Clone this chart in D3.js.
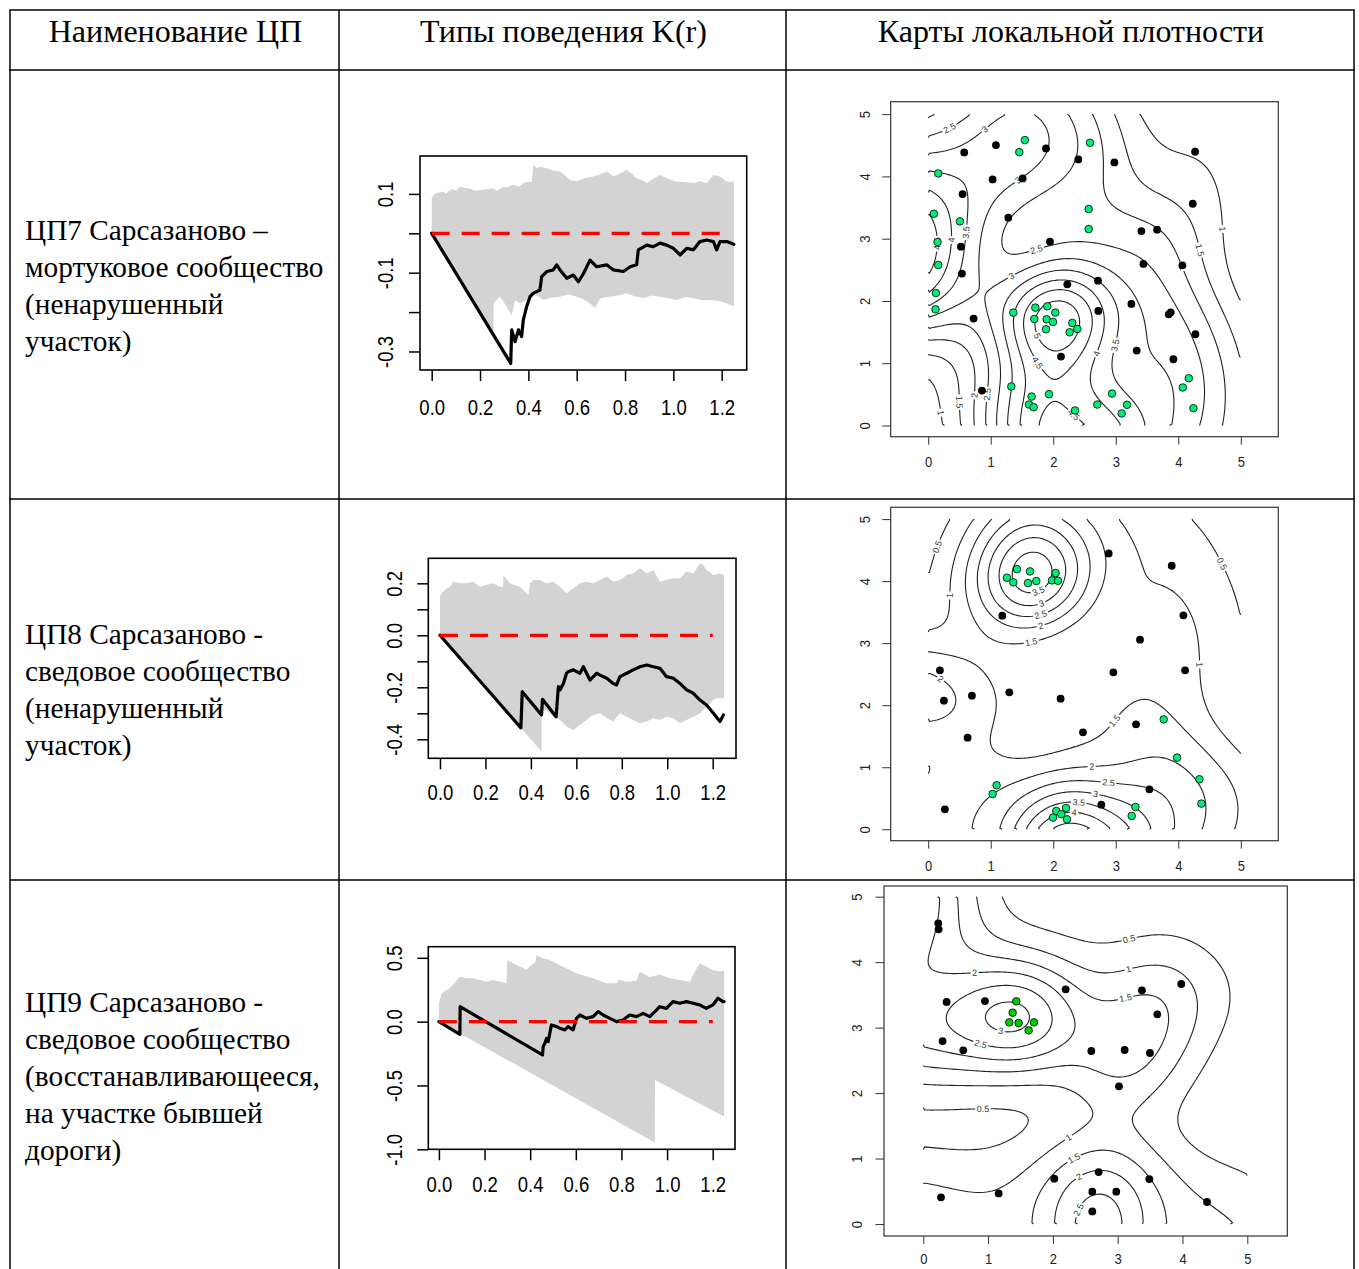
<!DOCTYPE html>
<html><head><meta charset="utf-8">
<script src="https://cdn.jsdelivr.net/npm/d3@7/dist/d3.min.js"></script>
<style>html,body{margin:0;padding:0;background:#fff;} svg{display:block}</style>
</head><body>
<svg id="chart" width="1359" height="1269"></svg>
<script>
// ================= DATA =================
const headerLabels = ["Наименование ЦП", "Типы поведения K(r)", "Карты локальной плотности"];
const rowLabels1 = ["ЦП7 Сарсазаново –", "мортуковое сообщество", "(ненарушенный", "участок)"];
const rowLabels2 = ["ЦП8 Сарсазаново -", "сведовое сообщество", "(ненарушенный", "участок)"];
const rowLabels3 = ["ЦП9 Сарсазаново -", "сведовое сообщество", "(восстанавливающееся,", "на участке бывшей", "дороги)"];

const kTicksX = [0, 0.2, 0.4, 0.6, 0.8, 1.0, 1.2];
const k1TicksY = [0.1, 0, -0.1, -0.2, -0.3];
const k1LabelsY = [0.1, -0.1, -0.3];
const k2TicksY = [0.2, 0.1, 0, -0.1, -0.2, -0.3, -0.4];
const k2LabelsY = [0.2, 0, -0.2, -0.4];
const k3TicksY = [0.5, 0, -0.5, -1.0];
const k3LabelsY = [0.5, 0, -0.5, -1.0];

// K(r) panel 1: envelope (upper/lower) and observed curve, [r, value]
const k1Upper = [[0,0.089],[0.01,0.098],[0.021,0.102],[0.035,0.104],[0.048,0.106],[0.06,0.101],[0.076,0.110],[0.09,0.112],[0.1,0.108],[0.117,0.118],[0.135,0.115],[0.159,0.114],[0.18,0.108],[0.2,0.11],[0.23,0.112],[0.255,0.114],[0.27,0.108],[0.297,0.118],[0.31,0.116],[0.338,0.123],[0.36,0.118],[0.38,0.127],[0.393,0.131],[0.414,0.13],[0.421,0.174],[0.435,0.165],[0.448,0.169],[0.476,0.165],[0.5,0.16],[0.531,0.157],[0.55,0.148],[0.572,0.135],[0.6,0.132],[0.63,0.14],[0.669,0.144],[0.7,0.15],[0.724,0.157],[0.752,0.144],[0.78,0.152],[0.807,0.161],[0.83,0.15],[0.848,0.14],[0.87,0.135],[0.89,0.127],[0.92,0.14],[0.945,0.148],[0.98,0.138],[1.014,0.131],[1.05,0.13],[1.083,0.127],[1.11,0.133],[1.138,0.127],[1.166,0.148],[1.193,0.144],[1.221,0.131],[1.25,0.131]];
const k1Lower = [[0,0],[0.255,-0.255],[0.256,-0.178],[0.27,-0.168],[0.283,-0.161],[0.31,-0.186],[0.331,-0.208],[0.345,-0.17],[0.366,-0.178],[0.393,-0.169],[0.421,-0.152],[0.44,-0.16],[0.462,-0.169],[0.5,-0.163],[0.531,-0.161],[0.565,-0.155],[0.6,-0.161],[0.63,-0.168],[0.655,-0.178],[0.676,-0.19],[0.697,-0.165],[0.738,-0.161],[0.77,-0.158],[0.807,-0.152],[0.84,-0.16],[0.876,-0.165],[0.91,-0.158],[0.945,-0.161],[0.98,-0.165],[1.014,-0.169],[1.05,-0.162],[1.083,-0.165],[1.12,-0.17],[1.152,-0.169],[1.19,-0.172],[1.221,-0.178],[1.25,-0.186]];
const k1Obs = [[0,0],[0.327,-0.33],[0.331,-0.245],[0.345,-0.275],[0.359,-0.245],[0.372,-0.262],[0.379,-0.22],[0.393,-0.186],[0.407,-0.161],[0.421,-0.152],[0.448,-0.144],[0.455,-0.11],[0.476,-0.097],[0.503,-0.093],[0.517,-0.08],[0.531,-0.093],[0.559,-0.114],[0.586,-0.106],[0.607,-0.123],[0.628,-0.102],[0.655,-0.068],[0.683,-0.085],[0.724,-0.08],[0.752,-0.093],[0.793,-0.097],[0.821,-0.085],[0.848,-0.08],[0.855,-0.042],[0.89,-0.03],[0.917,-0.034],[0.945,-0.025],[0.972,-0.03],[1.0,-0.038],[1.028,-0.055],[1.055,-0.038],[1.083,-0.042],[1.11,-0.021],[1.138,-0.017],[1.166,-0.021],[1.179,-0.042],[1.193,-0.021],[1.221,-0.021],[1.25,-0.028]];

// K(r) panel 2
const k2Upper = [[0,0.149],[0.007,0.162],[0.022,0.174],[0.044,0.187],[0.058,0.206],[0.088,0.2],[0.118,0.2],[0.147,0.206],[0.176,0.187],[0.205,0.194],[0.235,0.2],[0.264,0.187],[0.278,0.187],[0.279,0.232],[0.308,0.2],[0.352,0.187],[0.389,0.155],[0.396,0.2],[0.411,0.213],[0.44,0.213],[0.469,0.2],[0.499,0.206],[0.528,0.187],[0.557,0.162],[0.587,0.181],[0.616,0.2],[0.645,0.206],[0.674,0.2],[0.704,0.213],[0.734,0.226],[0.762,0.206],[0.792,0.213],[0.822,0.232],[0.85,0.238],[0.88,0.258],[0.91,0.238],[0.939,0.251],[0.968,0.206],[0.997,0.213],[1.027,0.219],[1.056,0.219],[1.085,0.245],[1.115,0.238],[1.144,0.277],[1.158,0.27],[1.173,0.251],[1.203,0.232],[1.232,0.238],[1.25,0.232]];
const k2Lower = [[0,0],[0.447,-0.447],[0.448,-0.287],[0.469,-0.287],[0.499,-0.313],[0.528,-0.326],[0.557,-0.351],[0.587,-0.364],[0.616,-0.345],[0.645,-0.326],[0.674,-0.306],[0.704,-0.3],[0.734,-0.319],[0.762,-0.332],[0.792,-0.3],[0.822,-0.313],[0.85,-0.326],[0.88,-0.338],[0.91,-0.332],[0.939,-0.319],[0.968,-0.326],[0.997,-0.313],[1.027,-0.319],[1.056,-0.338],[1.085,-0.326],[1.115,-0.313],[1.144,-0.3],[1.173,-0.274],[1.203,-0.249],[1.217,-0.242],[1.25,-0.242]];
const k2Obs = [[0,0],[0.356,-0.356],[0.362,-0.217],[0.447,-0.306],[0.451,-0.246],[0.511,-0.313],[0.521,-0.197],[0.528,-0.21],[0.543,-0.185],[0.557,-0.146],[0.564,-0.14],[0.587,-0.133],[0.616,-0.146],[0.631,-0.121],[0.66,-0.172],[0.689,-0.146],[0.704,-0.153],[0.734,-0.165],[0.762,-0.185],[0.777,-0.191],[0.792,-0.159],[0.822,-0.146],[0.85,-0.133],[0.88,-0.121],[0.91,-0.114],[0.939,-0.121],[0.968,-0.127],[0.997,-0.159],[1.027,-0.165],[1.056,-0.185],[1.085,-0.21],[1.115,-0.223],[1.144,-0.249],[1.173,-0.268],[1.203,-0.3],[1.232,-0.332],[1.247,-0.306]];

// K(r) panel 3
const k3Upper = [[0,0.144],[0.012,0.222],[0.034,0.248],[0.048,0.261],[0.077,0.32],[0.092,0.352],[0.12,0.339],[0.15,0.339],[0.179,0.326],[0.208,0.313],[0.237,0.326],[0.266,0.313],[0.296,0.3],[0.3,0.483],[0.325,0.457],[0.355,0.431],[0.384,0.405],[0.398,0.431],[0.424,0.47],[0.427,0.52],[0.456,0.496],[0.485,0.483],[0.529,0.444],[0.602,0.38],[0.675,0.34],[0.734,0.3],[0.779,0.3],[0.785,0.33],[0.822,0.313],[0.866,0.32],[0.88,0.39],[0.924,0.35],[0.968,0.37],[1.012,0.34],[1.056,0.326],[1.1,0.313],[1.115,0.37],[1.143,0.457],[1.172,0.431],[1.2,0.405],[1.23,0.392],[1.25,0.4]];
const k3Lower = [[0,0],[0.946,-0.946],[0.947,-0.457],[1.25,-0.744]];
const k3Obs = [[0,0],[0.092,-0.099],[0.093,0.117],[0.454,-0.261],[0.457,-0.196],[0.464,-0.17],[0.472,-0.131],[0.479,-0.157],[0.493,-0.026],[0.515,-0.039],[0.53,-0.052],[0.552,-0.065],[0.566,-0.039],[0.588,-0.065],[0.603,0.026],[0.618,0.052],[0.647,0.026],[0.676,0.039],[0.698,0.078],[0.72,0.052],[0.749,0.026],[0.778,0],[0.807,0.013],[0.836,0.052],[0.866,0.039],[0.895,0.065],[0.924,0.039],[0.953,0.091],[0.968,0.117],[0.997,0.104],[1.026,0.157],[1.055,0.144],[1.085,0.157],[1.114,0.144],[1.143,0.131],[1.172,0.104],[1.201,0.131],[1.223,0.183],[1.245,0.157],[1.25,0.157]];

// Density maps: point coordinates [x, y]
const mapTicks = [0, 1, 2, 3, 4, 5];
const map1Black = [[0.576,4.385],[1.083,4.503],[1.884,4.449],[2.401,4.273],[2.978,4.225],[4.269,4.396],[1.03,3.952],[1.51,3.968],[0.55,3.717],[4.232,3.561],[1.281,3.337],[3.41,3.123],[3.661,3.144],[1.948,2.952],[0.523,2.872],[3.442,2.594],[4.066,2.572],[0.539,2.439],[2.225,2.267],[2.716,2.326],[0.726,1.717],[2.721,1.84],[3.25,1.952],[3.847,1.786],[3.879,1.818],[4.274,1.465],[3.335,1.203],[2.124,1.107],[3.922,1.064],[0.859,0.561]];
const map1Green = [[1.547,4.583],[1.457,4.39],[2.588,4.54],[0.16,4.048],[0.091,3.401],[0.507,3.278],[0.149,2.947],[0.16,2.578],[2.567,3.476],[2.567,3.155],[0.123,2.128],[0.117,1.866],[1.361,1.813],[1.713,1.893],[1.905,1.914],[2.033,1.813],[1.697,1.711],[1.894,1.706],[1.996,1.663],[1.884,1.545],[2.305,1.647],[2.385,1.551],[2.263,1.497],[1.329,0.626],[1.654,0.465],[1.612,0.337],[1.686,0.294],[1.932,0.503],[2.348,0.241],[2.705,0.337],[2.94,0.513],[3.18,0.332],[3.095,0.193],[4.168,0.759],[4.072,0.61],[4.242,0.278]];
const map1Levels = [1, 1.5, 2, 2.5, 3, 3.5, 4, 4.5, 5];

const map2Black = [[2.887,4.447],[3.895,4.248],[1.185,3.443],[4.082,3.448],[3.388,3.056],[0.187,2.562],[2.962,2.53],[4.109,2.562],[0.251,2.073],[0.699,2.154],[1.297,2.207],[2.118,2.105],[0.63,1.477],[2.476,1.563],[3.324,1.692],[3.538,0.644],[2.769,0.397],[0.267,0.322]];
const map2Green = [[1.419,4.194],[1.259,4.055],[1.361,3.98],[1.628,4.157],[1.596,3.969],[1.729,4.001],[2.038,4.13],[1.98,4.012],[2.076,4.006],[3.767,1.772],[3.981,1.155],[4.338,0.806],[4.37,0.414],[1.094,0.709],[1.03,0.569],[3.314,0.36],[3.255,0.215],[2.049,0.295],[2.204,0.344],[2.129,0.242],[1.996,0.188],[2.22,0.161]];
const map2Levels = [0.5, 1, 1.5, 2, 2.5, 3, 3.5, 4, 4.5];

const map3Black = [[0.231,4.593],[0.237,4.501],[0.36,3.391],[0.952,3.406],[2.197,3.585],[3.374,3.569],[3.981,3.666],[3.611,3.203],[0.298,2.795],[0.617,2.653],[2.593,2.643],[3.107,2.658],[3.498,2.612],[3.02,2.103],[2.022,0.692],[2.706,0.794],[3.488,0.687],[2.608,0.494],[2.978,0.494],[2.608,0.193],[0.273,0.407],[1.163,0.468],[4.378,0.336]];
const map3Green = [[1.435,3.401],[1.379,3.228],[1.327,3.08],[1.471,3.07],[1.708,3.08],[1.626,2.958]];
const map3Levels = [0.5, 1, 1.5, 2, 2.5, 3];

// ================= LAYOUT =================
const svg = d3.select("#chart");
const tableCols = [10, 339, 786, 1354];
const tableRows = [10, 70, 499, 880];
const serif = "'Liberation Serif','Times New Roman',serif";
const sans = "'Liberation Sans',Arial,Helvetica,sans-serif";
const fmt1 = d => d3.format(".1f")(d).replace("\u2212", "-");

// table grid
const grid = svg.append("g").attr("stroke", "#000").attr("stroke-width", 1.5);
tableRows.forEach(y => grid.append("line").attr("x1", tableCols[0] - 0.75).attr("x2", tableCols[3] + 0.75).attr("y1", y).attr("y2", y));
tableCols.forEach(x => grid.append("line").attr("x1", x).attr("x2", x).attr("y1", tableRows[0]).attr("y2", 1269));

// header text
headerLabels.forEach((t, i) => {
  svg.append("text").attr("x", (tableCols[i] + tableCols[i + 1]) / 2 + 1).attr("y", 42)
    .attr("text-anchor", "middle").attr("font-family", serif).attr("font-size", 32).text(t);
});

function rowText(lines, baselines) {
  lines.forEach((t, i) => {
    svg.append("text").attr("x", 25).attr("y", baselines[i])
      .attr("font-family", serif).attr("font-size", 29.3).text(t);
  });
}
rowText(rowLabels1, [240, 277, 314, 351]);
rowText(rowLabels2, [644, 681, 718, 755]);
rowText(rowLabels3, [1012, 1049, 1086, 1123, 1160]);

// ================= K(r) PANELS =================
function drawK(cfg) {
  const g = svg.append("g");
  const x = d3.scaleLinear().domain(cfg.xDomain).range([cfg.box.l, cfg.box.r]);
  const y = d3.scaleLinear().domain(cfg.yDomain).range([cfg.box.b, cfg.box.t]);
  const line = d3.line().x(d => x(d[0])).y(d => y(d[1]));
  const poly = cfg.upper.concat(cfg.lower.slice().reverse());
  g.append("path").attr("d", line(poly) + "Z").attr("fill", "#d3d3d3").attr("stroke", "none");
  g.append("path").attr("d", line(cfg.obs)).attr("fill", "none").attr("stroke", "#000")
    .attr("stroke-width", 3.2).attr("stroke-linejoin", "round").attr("stroke-linecap", "round");
  g.append("path").attr("d", line([[0, 0], [cfg.redEnd, 0]])).attr("fill", "none").attr("stroke", "#ff0000")
    .attr("stroke-width", 3.2).attr("stroke-dasharray", "18,12");
  g.append("rect").attr("x", cfg.box.l).attr("y", cfg.box.t).attr("width", cfg.box.r - cfg.box.l)
    .attr("height", cfg.box.b - cfg.box.t).attr("fill", "none").attr("stroke", "#000").attr("stroke-width", 1.6);
  const ax = g.append("g").attr("transform", `translate(0,${cfg.box.b})`)
    .call(d3.axisBottom(x).tickValues(kTicksX).tickSize(11).tickFormat(fmt1));
  const ay = g.append("g").attr("transform", `translate(${cfg.box.l},0)`)
    .call(d3.axisLeft(y).tickValues(cfg.yTicks).tickSize(11)
      .tickFormat(d => cfg.yLabels.some(v => Math.abs(v - d) < 1e-9) ? fmt1(d) : ""));
  [ax, ay].forEach(a => {
    a.select(".domain").remove();
    a.selectAll("line").attr("stroke", "#000").attr("stroke-width", 1.5);
    a.selectAll("text").attr("font-family", sans).attr("font-size", 18.5).attr("fill", "#000");
  });
  ax.selectAll("text").attr("y", cfg.xLabOff / 1.2).attr("dy", "0.36em").attr("transform", "scale(1,1.2)");
  ay.selectAll("text").attr("x", 0).attr("y", 0).attr("dy", "0.36em").attr("text-anchor", "middle")
    .attr("transform", `translate(${-cfg.yLabOff},0) rotate(-90) scale(1,1.15)`);
}

drawK({ box: { l: 420, r: 746.7, t: 156, b: 370 }, xDomain: [-0.0484, 1.3034], yDomain: [-0.347, 0.1962],
  upper: k1Upper, lower: k1Lower, obs: k1Obs, redEnd: 1.2, yTicks: k1TicksY, yLabels: k1LabelsY, xLabOff: 37, yLabOff: 35 });
drawK({ box: { l: 428.3, r: 736, t: 558.3, b: 758.3 }, xDomain: [-0.0513, 1.3025], yDomain: [-0.4731, 0.2962],
  upper: k2Upper, lower: k2Lower, obs: k2Obs, redEnd: 1.2, yTicks: k2TicksY, yLabels: k2LabelsY, xLabOff: 34, yLabOff: 34 });
drawK({ box: { l: 428.3, r: 735, t: 946.7, b: 1149.3 }, xDomain: [-0.0465, 1.2977], yDomain: [-1.0, 0.587],
  upper: k3Upper, lower: k3Lower, obs: k3Obs, redEnd: 1.2, yTicks: k3TicksY, yLabels: k3LabelsY, xLabOff: 35, yLabOff: 34 });

// ================= DENSITY MAPS =================
function erf(x) {
  const s = x < 0 ? -1 : 1; x = Math.abs(x);
  const t = 1 / (1 + 0.3275911 * x);
  const y = 1 - (((((1.061405429 * t - 1.453152027) * t) + 1.421413741) * t - 0.284496736) * t + 0.254829592) * t * Math.exp(-x * x);
  return s * y;
}
const Phi = z => 0.5 * (1 + erf(z / Math.SQRT2));

// Gaussian kernel intensity with uniform edge correction on the [0,W]^2 window
function densityGrid(pts, sigma, n, W) {
  const h = W / n, vals = new Array(n * n).fill(0);
  const ec = [];
  for (let i = 0; i < n; i++) { const c = (i + 0.5) * h; ec.push(Phi((W - c) / sigma) - Phi(-c / sigma)); }
  const k = 1 / (2 * Math.PI * sigma * sigma), s2 = 2 * sigma * sigma;
  for (let j = 0; j < n; j++) {
    const yy = (j + 0.5) * h;
    for (let i = 0; i < n; i++) {
      const xx = (i + 0.5) * h; let s = 0;
      for (const p of pts) { const dx = xx - p[0], dy = yy - p[1]; s += Math.exp(-(dx * dx + dy * dy) / s2); }
      vals[j * n + i] = s * k / (ec[i] * ec[j]);
    }
  }
  return vals;
}

function ringToLines(ring, n) {
  let pts = ring.slice();
  const last = pts[pts.length - 1];
  if (pts.length > 1 && last[0] === pts[0][0] && last[1] === pts[0][1]) pts.pop();
  const eps = 1e-6;
  const onB = p => p[0] <= eps || p[0] >= n - eps || p[1] <= eps || p[1] >= n - eps;
  const m = pts.length;
  const keep = i => !(onB(pts[i]) && onB(pts[(i + 1) % m]));
  let start = -1;
  for (let i = 0; i < m; i++) if (!keep(i)) { start = i; break; }
  if (start < 0) return [{ closed: true, pts: pts.concat([pts[0]]) }];
  const lines = []; let cur = null;
  for (let k = 1; k <= m; k++) {
    const i = (start + k) % m;
    if (keep(i)) { if (!cur) cur = [pts[i]]; cur.push(pts[(i + 1) % m]); }
    else if (cur) { lines.push({ closed: false, pts: cur }); cur = null; }
  }
  if (cur) lines.push({ closed: false, pts: cur });
  return lines;
}

function labelSpot(pts) {
  const cum = [0];
  for (let i = 1; i < pts.length; i++) cum.push(cum[i - 1] + Math.hypot(pts[i][0] - pts[i - 1][0], pts[i][1] - pts[i - 1][1]));
  const L = cum[cum.length - 1];
  if (L < 45) return null;
  const at = s => {
    let i = d3.bisectRight(cum, s) - 1; i = Math.max(0, Math.min(pts.length - 2, i));
    const seg = cum[i + 1] - cum[i], t = seg > 0 ? (s - cum[i]) / seg : 0;
    return [pts[i][0] + t * (pts[i + 1][0] - pts[i][0]), pts[i][1] + t * (pts[i + 1][1] - pts[i][1])];
  };
  let best = null, bestScore = Infinity;
  for (let s = Math.max(14, 0.12 * L); s <= Math.min(L - 14, 0.88 * L); s += 2) {
    const a = at(s - 12), b = at(s), c = at(s + 12);
    const a1 = Math.atan2(b[1] - a[1], b[0] - a[0]), a2 = Math.atan2(c[1] - b[1], c[0] - b[0]);
    let d = Math.abs(a2 - a1); if (d > Math.PI) d = 2 * Math.PI - d;
    const score = d + 0.35 * Math.abs(s - L / 2) / L;
    if (score < bestScore) { bestScore = score; best = { p: b, ang: Math.atan2(c[1] - a[1], c[0] - a[0]) * 180 / Math.PI }; }
  }
  if (!best) return null;
  if (best.ang > 90) best.ang -= 180;
  if (best.ang < -90) best.ang += 180;
  return best;
}

function drawMap(cfg) {
  const g = svg.append("g");
  const x = d3.scaleLinear().domain(cfg.xDomain).range([cfg.box.l, cfg.box.r]);
  const y = d3.scaleLinear().domain(cfg.yDomain).range([cfg.box.b, cfg.box.t]);
  const W = 5, n = 125, h = W / n;
  const allPts = cfg.black.concat(cfg.green);
  const vals = densityGrid(allPts, 0.625, n, W);
  const contours = d3.contours().size([n, n]).thresholds(cfg.levels)(vals);
  const toScreen = p => [x(p[0] * h), y(p[1] * h)];
  const lineGen = d3.line();
  const lg = g.append("g"), labG = g.append("g");
  contours.forEach(c => {
    if (!cfg.levels.includes(c.value)) return;
    c.coordinates.forEach(poly => poly.forEach(ring => {
      ringToLines(ring, n).forEach(ln => {
        const sp = ln.pts.map(toScreen);
        lg.append("path").attr("d", lineGen(sp)).attr("fill", "none")
          .attr("stroke", "#222").attr("stroke-width", 1.1);
        const spot = labelSpot(sp);
        if (spot) {
          const txt = String(c.value);
          const w = txt.replace(".", "").length * 5 + (txt.includes(".") ? 2.5 : 0) + 3;
          const lab = labG.append("g").attr("transform", `translate(${spot.p[0]},${spot.p[1]}) rotate(${spot.ang})`);
          lab.append("rect").attr("x", -w / 2).attr("y", -4.5).attr("width", w).attr("height", 9).attr("fill", "#fff");
          lab.append("text").attr("text-anchor", "middle").attr("dy", "0.35em")
            .attr("font-family", sans).attr("font-size", 9).attr("fill", "#333").text(txt);
        }
      });
    }));
  });
  g.append("rect").attr("x", cfg.box.l).attr("y", cfg.box.t).attr("width", cfg.box.r - cfg.box.l)
    .attr("height", cfg.box.b - cfg.box.t).attr("fill", "none").attr("stroke", "#333").attr("stroke-width", 1.2);
  g.append("g").selectAll("circle").data(cfg.black).join("circle")
    .attr("cx", d => x(d[0])).attr("cy", d => y(d[1])).attr("r", 3.9).attr("fill", "#000");
  g.append("g").selectAll("circle").data(cfg.green).join("circle")
    .attr("cx", d => x(d[0])).attr("cy", d => y(d[1])).attr("r", 3.8).attr("fill", cfg.greenColor)
    .attr("stroke", "#000").attr("stroke-width", 0.8);
  const ax = g.append("g").attr("transform", `translate(0,${cfg.box.b})`)
    .call(d3.axisBottom(x).tickValues(mapTicks).tickSize(8).tickFormat(d3.format("d")));
  const ay = g.append("g").attr("transform", `translate(${cfg.box.l},0)`)
    .call(d3.axisLeft(y).tickValues(mapTicks).tickSize(8.5).tickFormat(d3.format("d")));
  [ax, ay].forEach(a => {
    a.select(".domain").remove();
    a.selectAll("line").attr("stroke", "#333").attr("stroke-width", 1);
    a.selectAll("text").attr("font-family", sans).attr("font-size", 13).attr("fill", "#222");
  });
  ax.selectAll("text").attr("y", cfg.xLabOff / 1.1).attr("dy", "0.36em").attr("transform", "scale(1,1.1)");
  ay.selectAll("text").attr("x", 0).attr("y", 0).attr("dy", "0.36em").attr("text-anchor", "middle")
    .attr("transform", `translate(${-cfg.yLabOff},0) rotate(-90) scale(1,1.1)`);
}

drawMap({ box: { l: 890.7, r: 1278.3, t: 101.7, b: 436.7 }, xDomain: [-0.6, 5.6], yDomain: [-0.18, 5.2],
  black: map1Black, green: map1Green, levels: map1Levels, greenColor: "#00EE76", xLabOff: 25, yLabOff: 26 });
drawMap({ box: { l: 890.7, r: 1278.3, t: 507.3, b: 840.7 }, xDomain: [-0.6, 5.6], yDomain: [-0.184, 5.19],
  black: map2Black, green: map2Green, levels: map2Levels, greenColor: "#00EE76", xLabOff: 25, yLabOff: 26 });
drawMap({ box: { l: 884, r: 1287.3, t: 886, b: 1236 }, xDomain: [-0.606, 5.617], yDomain: [-0.183, 5.163],
  black: map3Black, green: map3Green, levels: map3Levels, greenColor: "#00CD00", xLabOff: 23, yLabOff: 27 });
</script>
</body></html>
